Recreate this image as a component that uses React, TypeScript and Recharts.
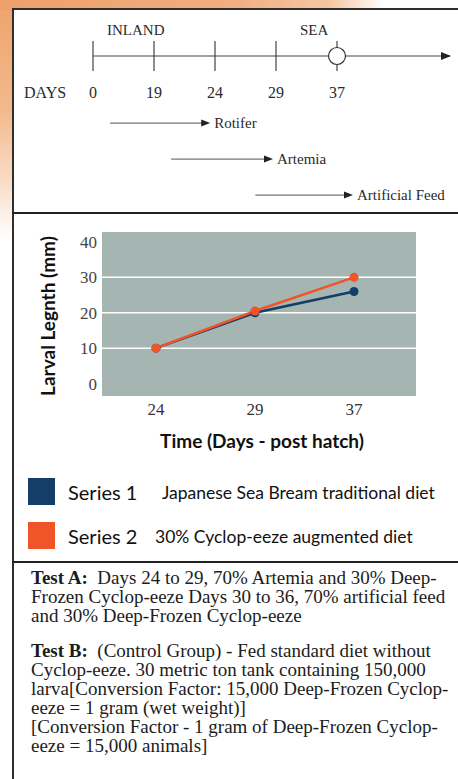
import React from "react";
import { Bar, BarChart, CartesianGrid, ComposedChart, Line, LineChart, XAxis, YAxis } from "recharts";

// timeline (top panel)
const timelineDays = ["0", "19", "24", "29", "37"];
const seaDay = "37";
// feed periods, measured in timeline slots (one slot between two ticks)
const feedNames = ["Rotifer", "Artemia", "Artificial Feed"];
const feedStart = [0.28, 1.28, 2.66];
const feedEnd = [1.92, 2.95, 4.26];

// larval length chart
const days = ["24", "29", "37"];
const series1 = [10, 20, 26];
const series2 = [10, 20.5, 30];
const yTicks = [0, 10, 20, 30, 40];
const gridValues = [10, 20, 30];

const seriesNames = ["Series 1", "Series 2"];
const seriesNotes = ["Japanese Sea Bream traditional diet", "30% Cyclop-eeze augmented diet"];

const testA = [
  "Days 24 to 29, 70% Artemia and 30% Deep-",
  "Frozen Cyclop-eeze Days 30 to 36, 70% artificial feed",
  "and 30% Deep-Frozen Cyclop-eeze",
];
const testB = [
  "(Control Group) - Fed standard diet without",
  "Cyclop-eeze. 30 metric ton tank containing 150,000",
  "larva[Conversion Factor: 15,000 Deep-Frozen Cyclop-",
  "eeze = 1 gram (wet weight)]",
  "[Conversion Factor - 1 gram of Deep-Frozen Cyclop-",
  "eeze = 15,000 animals]",
];

const BLUE = "#143e68";
const ORANGE = "#f0552a";
const SERIF = "'Liberation Serif', 'DejaVu Serif', serif";
const SANS = "Lato, 'Open Sans', sans-serif";
const TL_Y = 56;

const timelineData = timelineDays.map((day) => ({ day }));
const feedData = feedNames.map((name, i) => ({ name, span: [feedStart[i], feedEnd[i]] }));
const lengthData = days.map((day, i) => ({ day, s1: series1[i], s2: series2[i] }));

function DayTick(props: any) {
  const { x, payload } = props;
  const sea = payload.value === seaDay;
  return (
    <g>
      <line x1={x} x2={x} y1={TL_Y - 15} y2={TL_Y + 15} stroke="#444" strokeWidth={1.2} />
      {sea && <circle cx={x} cy={TL_Y} r={8.5} fill="#fff" stroke="#333" strokeWidth={1.2} />}
      <text x={x} y={TL_Y + 42} textAnchor="middle" fill="#2a2a2a" fontSize={16} fontFamily={SERIF}>
        {payload.value}
      </text>
    </g>
  );
}

function FeedArrow(props: any) {
  const { x, y, width, height, index } = props;
  const cy = y + height / 2;
  const tip = x + width;
  return (
    <g>
      <line x1={x} x2={tip - 8} y1={cy} y2={cy} stroke="#555" strokeWidth={1} />
      <path d={`M${tip - 9},${cy - 3.5} L${tip},${cy} L${tip - 9},${cy + 3.5} Z`} fill="#222" />
      <text x={tip + 4} y={cy} dy="0.35em" fill="#2a2a2a" fontSize={15} fontFamily={SERIF}>
        {feedNames[index]}
      </text>
    </g>
  );
}

function XTick(props: any) {
  const { x, y, payload } = props;
  return (
    <text x={x} y={y} dy="0.75em" textAnchor="middle" fill="#333" fontSize={17} fontFamily={SERIF}>
      {payload.value}
    </text>
  );
}

function YTick(props: any) {
  const { x, y, payload } = props;
  return (
    <text x={x} y={y} dy="0.35em" textAnchor="end" fill="#444" fontSize={17} fontFamily={SERIF}>
      {payload.value}
    </text>
  );
}

function abs(left: number, top: number, extra: React.CSSProperties = {}): React.CSSProperties {
  return { position: "absolute", left, top, ...extra };
}

export default function App() {
  const serifText: React.CSSProperties = { fontFamily: SERIF, color: "#2a2a2a", whiteSpace: "nowrap", lineHeight: "20px" };
  const noteText: React.CSSProperties = { fontFamily: SERIF, fontSize: 19, color: "#1c1c1c", whiteSpace: "nowrap", lineHeight: "19px" };

  return (
    <div
      style={{
        position: "absolute",
        left: 0,
        top: 0,
        width: 458,
        height: 779,
        overflow: "hidden",
        background: "linear-gradient(to bottom, #eea36c 0px, #f3b98c 110px, #f9dcc6 180px, #ffffff 240px)",
      }}
    >
      {/* top strip */}
      <div style={abs(0, 0, { width: 458, height: 10, background: "linear-gradient(to right, #eda06a 0%, #f1ae80 50%, #f5c6a2 72%, #ffffff 84%)" })} />
      {/* box */}
      <div style={abs(12, 8, { width: 460, height: 800, background: "#fff", borderLeft: "2px solid #2e2e2e", borderTop: "2px solid #2e2e2e" })} />
      <div style={abs(12, 212, { width: 446, height: 2, background: "#222" })} />
      <div style={abs(12, 561, { width: 446, height: 2, background: "#222" })} />

      {/* timeline */}
      <div style={abs(0, 0)}>
        <ComposedChart width={458} height={112} data={timelineData} margin={{ top: 0, right: 8, bottom: 0, left: 93 }}>
          <defs>
            <marker id="tlArrow" markerWidth={10} markerHeight={8} refX={9} refY={4} orient="auto" markerUnits="userSpaceOnUse">
              <path d="M0,0 L10,4 L0,8 Z" fill="#222" />
            </marker>
          </defs>
          <XAxis
            dataKey="day"
            orientation="top"
            height={TL_Y}
            scale="point"
            padding={{ left: 0, right: 113 }}
            interval={0}
            tickLine={false}
            axisLine={{ stroke: "#444", strokeWidth: 1.2, markerEnd: "url(#tlArrow)" }}
            tick={(p: any) => <DayTick {...p} />}
          />
          <YAxis hide />
        </ComposedChart>
      </div>
      <div style={abs(24, 83, { ...serifText, fontSize: 16 })}>DAYS</div>
      <div style={abs(107, 20, { ...serifText, fontSize: 15 })}>INLAND</div>
      <div style={abs(300, 20, { ...serifText, fontSize: 15 })}>SEA</div>

      <div style={abs(0, 100)}>
        <BarChart layout="vertical" width={458} height={113} data={feedData} margin={{ top: 5, right: 8, bottom: 0, left: 93 }}>
          <XAxis type="number" domain={[0, 5.85]} hide />
          <YAxis type="category" dataKey="name" hide />
          <Bar dataKey="span" shape={(p: any) => <FeedArrow {...p} />} isAnimationActive={false} />
        </BarChart>
      </div>

      {/* larval length chart */}
      <div style={abs(0, 215)}>
        <LineChart width={458} height={240} data={lengthData} margin={{ top: 17, right: 42, bottom: 29, left: 62 }}>
          <CartesianGrid vertical={false} horizontalValues={gridValues} stroke="#ffffff" strokeWidth={1.5} fill="#a5b5b1" fillOpacity={1} />
          <XAxis
            dataKey="day"
            scale="point"
            padding={{ left: 54, right: 62 }}
            interval={0}
            axisLine={false}
            tickLine={false}
            tickSize={0}
            tickMargin={6}
            height={30}
            tick={(p: any) => <XTick {...p} />}
          />
          <YAxis
            width={40}
            domain={[-3.5, 42.8]}
            ticks={yTicks}
            allowDataOverflow
            axisLine={false}
            tickLine={false}
            tickSize={0}
            tickMargin={5}
            tick={(p: any) => <YTick {...p} />}
          />
          <Line dataKey="s1" stroke={BLUE} strokeWidth={2.5} dot={{ r: 4.5, fill: BLUE, stroke: BLUE, strokeWidth: 0 }} isAnimationActive={false} />
          <Line dataKey="s2" stroke={ORANGE} strokeWidth={2.5} dot={{ r: 4.5, fill: ORANGE, stroke: ORANGE, strokeWidth: 0 }} isAnimationActive={false} />
        </LineChart>
      </div>
      <div
        style={abs(47, 316, {
          transform: "translate(-50%, -50%) rotate(-90deg)",
          fontFamily: SANS,
          fontWeight: 700,
          fontSize: 19,
          color: "#111",
          whiteSpace: "nowrap",
        })}
      >
        Larval Legnth (mm)
      </div>
      <div
        style={abs(262, 440, {
          transform: "translate(-50%, -50%)",
          fontFamily: SANS,
          fontWeight: 700,
          fontSize: 19,
          color: "#111",
          whiteSpace: "nowrap",
        })}
      >
        Time (Days - post hatch)
      </div>

      {/* legend */}
      {seriesNames.map((name, i) => {
        const top = i === 0 ? 478 : 522;
        return (
          <React.Fragment key={name}>
            <div style={abs(28, top, { width: 27, height: 27, background: i === 0 ? BLUE : ORANGE })} />
            <div style={abs(68, top + 2, { fontFamily: SANS, fontSize: 20, color: "#111", lineHeight: "24px", whiteSpace: "nowrap" })}>{name}</div>
            <div style={abs(i === 0 ? 162 : 155, top + 3, { fontFamily: SANS, fontSize: 17.5, color: "#111", lineHeight: "24px", whiteSpace: "nowrap" })}>
              {seriesNotes[i]}
            </div>
          </React.Fragment>
        );
      })}

      {/* notes */}
      <div style={abs(31, 568)}>
        {testA.map((line, i) => (
          <div key={i} style={noteText}>
            {i === 0 && <b>Test A:&nbsp; </b>}
            {line}
          </div>
        ))}
      </div>
      <div style={abs(31, 641)}>
        {testB.map((line, i) => (
          <div key={i} style={noteText}>
            {i === 0 && <b>Test B:&nbsp; </b>}
            {line}
          </div>
        ))}
      </div>
    </div>
  );
}
